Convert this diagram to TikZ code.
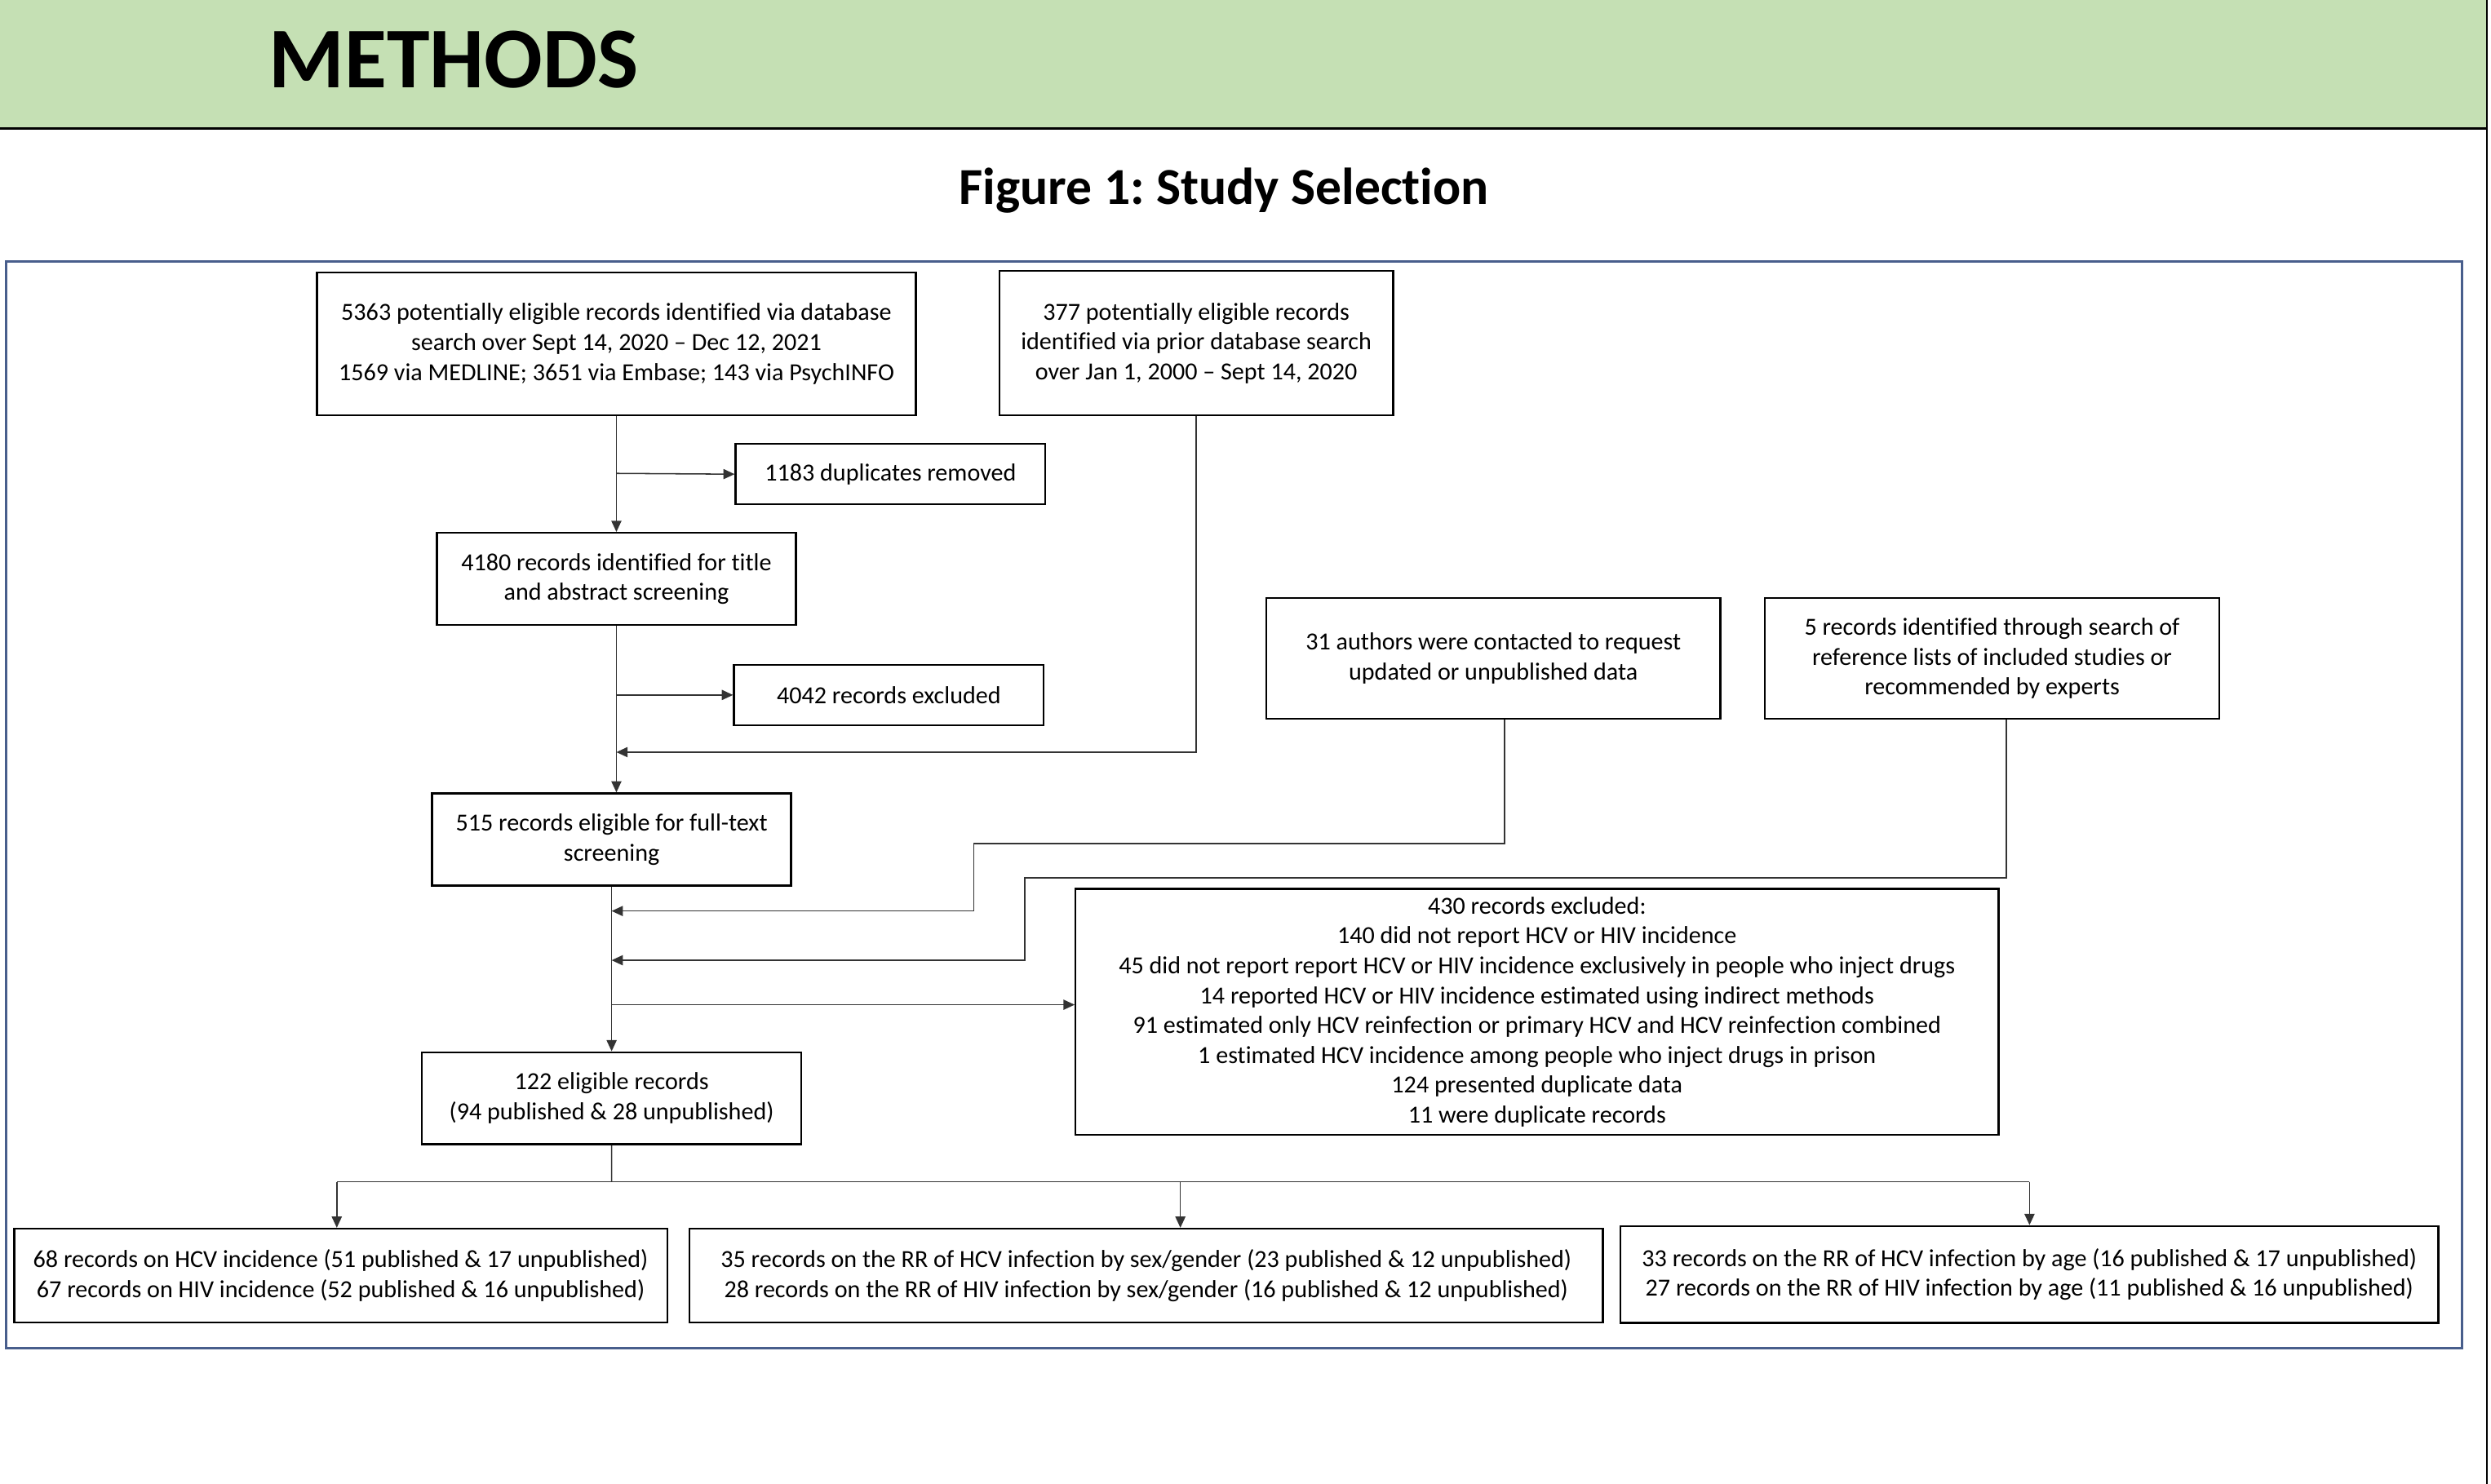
\documentclass[tikz,border=0pt]{standalone}
\usepackage{fontspec}
\setmainfont{Carlito}[Ligatures={TeX,NoCommon}]
\frenchspacing
\usetikzlibrary{arrows.meta,positioning}
\definecolor{hdgreen}{RGB}{197,224,180}
\definecolor{frameblue}{RGB}{72,94,140}

\tikzstyle{bx} = [rectangle, draw=black, line width=0.7pt, fill=white, inner sep=0pt, align=center, font=\fontsize{8.8}{10.7}\selectfont]
\tikzstyle{ln} = [black!80, line width=0.45pt]

\begin{document}
\begin{tikzpicture}[x=0.02cm, y=-0.02cm, >={Triangle[length=4pt,width=3.6pt]}]
\useasboundingbox (0,0) rectangle (1568,934);

    % header band and frame
    \fill[hdgreen] (0,0) rectangle (1565,81);
    \draw[line width=0.9pt] (0,81) -- (1565,81);
    \draw[line width=0.6pt] (1565.5,0) -- (1565.5,934);
    \node[anchor=base west, inner sep=0pt, font=\fontsize{31}{37}\selectfont\bfseries] (head) at (169,55) {METHODS};
    \node[anchor=base, inner sep=0pt, font=\fontsize{18.6}{22}\selectfont\bfseries] (title) at (770.5,128.4) {Figure 1: Study Selection};
    \draw[frameblue, line width=0.9pt] (3.8,164.4) rectangle (1549.6,848.5);

    \node[bx, minimum width=7.54cm, minimum height=1.8cm] (A) at (388,216.5) {5363 potentially eligible records identified via database\\search over Sept 14, 2020 – Dec 12, 2021\\1569 via MEDLINE; 3651 via Embase; 143 via PsychINFO};
    \node[bx, minimum width=4.96cm, minimum height=1.82cm] (B) at (753,216) {377 potentially eligible records\\identified via prior database search\\over Jan 1, 2000 – Sept 14, 2020};
    \node[bx, minimum width=3.9cm, minimum height=0.76cm] (Dup) at (560.5,298.5) {1183 duplicates removed};
    \node[bx, minimum width=4.52cm, minimum height=1.16cm] (C) [below of=A, node distance=2.96cm] {4180 records identified for title\\and abstract screening};
    \node[bx, minimum width=3.9cm, minimum height=0.76cm] (Ex1) at (559.5,437.5) {4042 records excluded};
    \node[bx, minimum width=5.72cm, minimum height=1.52cm] (Auth) at (940,414.5) {31 authors were contacted to request\\updated or unpublished data};
    \node[bx, minimum width=5.72cm, minimum height=1.52cm] (Ref) [right of=Auth, node distance=6.28cm] {5 records identified through search of\\reference lists of included studies or\\recommended by experts};
    \node[bx, minimum width=4.52cm, minimum height=1.16cm] (D) [below of=C, node distance=3.28cm, xshift=-0.06cm] {515 records eligible for full-text\\screening};
    \node[bx, minimum width=11.62cm, minimum height=3.1cm] (Ex2) at (967.5,637) {430 records excluded:\\140 did not report HCV or HIV incidence\\45 did not report report HCV or HIV incidence exclusively in people who inject drugs\\14 reported HCV or HIV incidence estimated using indirect methods\\91 estimated only HCV reinfection or primary HCV and HCV reinfection combined\\1 estimated HCV incidence among people who inject drugs in prison\\124 presented duplicate data\\11 were duplicate records};
    \node[bx, minimum width=4.78cm, minimum height=1.16cm] (E) [below of=D, node distance=3.26cm] {122 eligible records\\(94 published \& 28 unpublished)};

    \node[bx, minimum width=8.22cm, minimum height=1.18cm] (F1) at (214.5,803) {68 records on HCV incidence (51 published \& 17 unpublished)\\67 records on HIV incidence (52 published \& 16 unpublished)};
    \node[bx, minimum width=11.5cm, minimum height=1.18cm] (F2) at (721.5,803) {35 records on the RR of HCV infection by sex/gender (23 published \& 12 unpublished)\\28 records on the RR of HIV infection by sex/gender (16 published \& 12 unpublished)};
    \node[bx, minimum width=10.3cm, minimum height=1.22cm] (F3) at (1277.5,802.3) {33 records on the RR of HCV infection by age (16 published \& 17 unpublished)\\27 records on the RR of HIV infection by age (11 published \& 16 unpublished)};

    % junctions on the main line
    \coordinate (jDup) at (388,298);
    \coordinate (jB) at (388,473.5);
    \coordinate (kA) at (613,531);
    \coordinate (jA) at (385,573.5);
    \coordinate (kR) at (645,552.5);
    \coordinate (jR) at (385,604.5);
    \coordinate (jX) at (385,632.5);
    \coordinate (bus) at (385,744);

    \path[ln,->]
    (A) edge (C)
    (jDup) edge (Dup.west)
    (C.south) edge (C.south |- D.north)
    (C.south |- Ex1.west) edge (Ex1.west)
    (jX) edge (jX -| Ex2.west)
    (D) edge (E);

    \draw[ln,->] (B.south) |- (jB);
    \draw[ln,->] ([xshift=0.14cm]Auth.south) |- (kA) |- (jA);
    \draw[ln,->] ([xshift=0.18cm]Ref.south) |- (kR) |- (jR);

    \draw[ln] (E.south) -- (bus);
    \draw[ln] (bus -| 212,0) -- (bus -| F3.north);
    \draw[ln,->] (bus -| 212,0) -- (F1.north -| 212,0);
    \draw[ln,->] (bus -| 743,0) -- (F2.north -| 743,0);
    \draw[ln,->] (bus -| F3.north) -- (F3.north);

\end{tikzpicture}
\end{document}
